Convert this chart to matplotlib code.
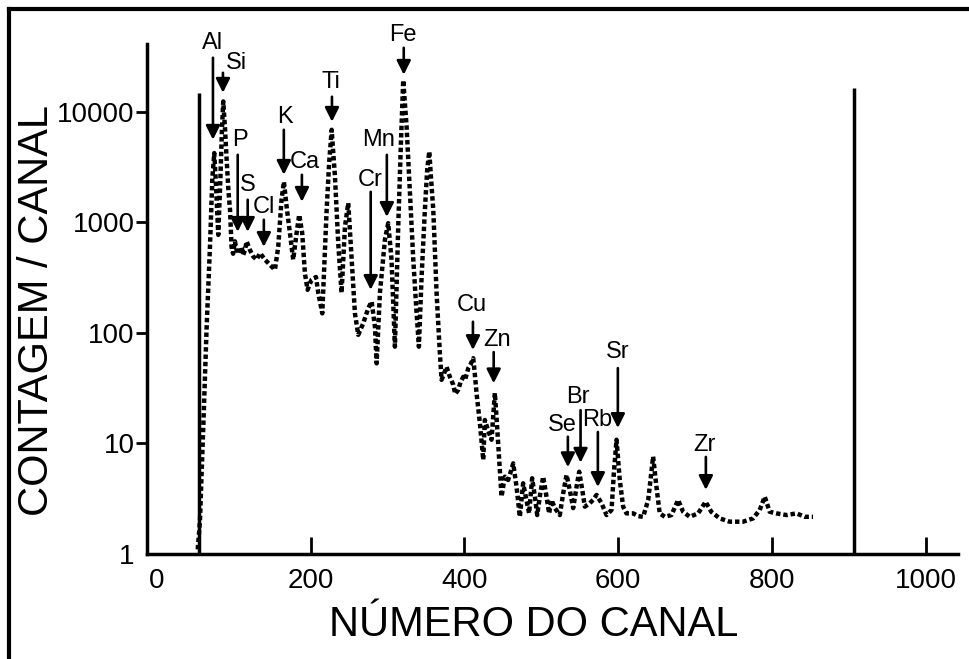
import matplotlib.pyplot as plt
from matplotlib.lines import Line2D

plt.rcParams['font.family'] = ['Liberation Sans', 'DejaVu Sans']

# spectrum (channel, counts per channel)
channel = [53, 55.9, 60.2, 64.6, 68.9, 72, 74.5, 77, 79.7, 82.5, 84.5, 86.2, 88.5, 90.6, 93, 95, 97, 99,
           101.4, 103.5, 105.7, 108, 110.1, 112.2, 114.5, 116.6, 121, 125.3, 129.6, 134, 140.4, 147, 153.4,
           157.7, 162, 165.1, 168.6, 172.9, 177.2, 181.6, 185, 188.9, 192.4, 195.9, 201, 206.8, 209.8, 215,
           220.7, 224, 227.2, 231.5, 235.8, 240.1, 244.5, 248.8, 253.2, 257.5, 261.8, 268.3, 274.8, 279.2,
           283.5, 285.7, 290, 296.5, 300.8, 305.1, 309.5, 313.8, 317.3, 320.3, 324.7, 329, 333.4, 337, 340.7,
           344.2, 348.5, 351.5, 354.2, 356.5, 359.4, 363.7, 368, 370.2, 373, 376.7, 381, 385.4, 388, 391.8,
           395, 398.4, 401, 404.9, 408, 411.4, 413.5, 415.7, 420, 424.4, 426.5, 430.6, 435.2, 437.5, 439.5,
           441.5, 443.8, 448.2, 452.5, 456.8, 460, 463.4, 467.7, 472, 476.3, 480.7, 484.1, 488, 491.6, 494.6,
           498.5, 502.4, 506.7, 510.1, 513.2, 517.6, 524, 528.4, 532.8, 537, 541.4, 545.8, 549.2, 553.2, 556.6,
           563, 567.5, 571.8, 578.3, 584.8, 591.3, 594.3, 597.8, 602, 606.4, 610.8, 619.5, 626, 632.4, 639,
           645.4, 649.7, 654, 660.6, 669.2, 677.9, 684.4, 693, 703.9, 713.7, 721, 732, 745, 762.4, 775.5, 784,
           790.6, 797, 805.9, 818.9, 831.9, 842.6, 853.4]
counts = [1.1, 2.0, 14, 114, 600, 2500, 4230, 2000, 770, 2500, 7000, 12400, 7000, 3700, 1900, 1300, 600, 520,
          673, 560, 545, 520, 600, 508, 560, 673, 560, 490, 460, 527, 460, 412, 372,
          600, 1600, 2330, 1390, 800, 460, 800, 1170, 800, 347, 245, 302, 320, 230, 150,
          1300, 3500, 6870, 2600, 645, 230, 912, 1495, 460, 150, 96, 122, 167, 192,
          114, 53, 230, 695, 982, 460, 75, 912, 5170, 19300, 7360, 1830, 460, 180, 75,
          320, 1300, 3000, 4370, 2500, 1300, 230, 65, 37.6, 42, 49.3, 40, 33.9, 28, 30.5,
          36, 40, 38, 47.8, 52, 59, 42, 28.4, 15.3, 7.1, 16.3, 13.2, 10.8, 18, 28.6,
          18, 10.1, 3.3, 5.0, 4.67, 5.5, 6.6, 4.06, 2.17, 4.36, 3.08, 2.33, 4.84, 3.3, 2.25,
          3.5, 5.0, 3.3, 2.33, 3.08, 2.6, 2.25, 3.54, 5.2, 3.8, 2.6, 4.06, 5.55, 3.8, 2.68,
          2.88, 3.1, 3.42, 2.88, 2.25, 2.5, 5.37, 10.8, 4.67, 2.68, 2.33, 2.33, 2.2, 2.17, 3.08,
          7.6, 4.06, 2.33, 2.17, 2.25, 3.08, 2.41, 2.17, 2.33, 2.97, 2.41, 2.1, 1.96, 1.96, 2.1, 2.5,
          3.3, 2.41, 2.33, 2.25, 2.33, 2.17, 2.17]

# detector window markers
window_x = [54, 907]
window_top = [14800, 16500]

# element identification arrows
elements = ["Al", "Si", "P", "S", "Cl", "K", "Ca", "Ti", "Cr", "Mn", "Fe",
            "Cu", "Zn", "Se", "Br", "Rb", "Sr", "Zr"]
arrow_x = [72.8, 85.8, 105, 118, 139, 165, 188.5, 227.6, 278, 299, 321,
           411, 438, 534.5, 551, 573.5, 599.5, 714]
arrow_top = [30800, 22500, 4080, 1600, 1054, 6870, 2690, 13670, 1888, 4080, 37900,
             126, 67, 11.5, 20, 12.7, 48, 7.55]
arrow_tip = [5580, 14860, 820, 820, 600, 2690, 1534, 8120, 245, 1120, 21600,
             70, 35, 6.1, 6.7, 4.04, 13.8, 3.8]
label_x = [72.8, 104, 108, 118, 139, 166.5, 192.5, 226, 277, 288.7, 320,
           409.6, 442, 526.7, 547.5, 572, 599.5, 712.6]
label_y = [42100, 27700, 5580, 2185, 1380, 9010, 3525, 18700, 2426, 5580, 49700,
           179, 86.4, 14.7, 26.4, 16.3, 67.3, 9.7]

fig = plt.figure(figsize=(9.7, 6.59), dpi=100)
ax = fig.add_axes([147 / 970, 1 - 554 / 659, (958 - 147) / 970, (554 - 44) / 659])

ax.plot(channel, counts, color="black", linewidth=3.2, linestyle=(0, (1.0, 0.65)))
ax.vlines(window_x, 1, window_top, color="black", linewidth=2.5)

for el, xa, yt, yb, xl, yl in zip(elements, arrow_x, arrow_top, arrow_tip, label_x, label_y):
    ax.annotate("", xy=(xa, yb), xytext=(xa, yt),
                arrowprops=dict(arrowstyle="-|>", color="black", lw=1.9,
                                mutation_scale=21, shrinkA=0, shrinkB=0))
    ax.text(xl, yl, el, fontsize=17, ha="center", va="center", clip_on=False)

ax.set_yscale("log")
ax.set_xlim(-13, 1042)
ax.set_ylim(1, 41000)
ax.set_xticks([0, 200, 400, 600, 800, 1000])
ax.set_yticks([1, 10, 100, 1000, 10000])
ax.set_yticklabels(["1", "10", "100", "1000", "10000"])
ax.minorticks_off()
ax.tick_params(axis="x", direction="in", length=12, width=2, labelsize=20, pad=10)
ax.tick_params(axis="y", direction="out", length=8, width=2, labelsize=20, pad=1)
ax.xaxis.get_major_ticks()[0].tick1line.set_visible(False)
ax.yaxis.get_major_ticks()[0].tick1line.set_visible(False)

for side in ["top", "right"]:
    ax.spines[side].set_visible(False)
for side in ["left", "bottom"]:
    ax.spines[side].set_linewidth(2.5)

ax.set_xlabel("NÚMERO DO CANAL", fontsize=30)
ax.set_ylabel("CONTAGEM / CANAL", fontsize=30)
ax.xaxis.set_label_coords(0.477, -0.10)
ax.yaxis.set_label_coords(-0.111, 0.478)

# page frame from the scan
fig.add_artist(Line2D([9 / 970, 9 / 970], [0, 1 - 9 / 659], color="black", linewidth=3))
fig.add_artist(Line2D([9 / 970, 1], [1 - 9 / 659, 1 - 9 / 659], color="black", linewidth=3))

fig.savefig("out.png", dpi=100)
